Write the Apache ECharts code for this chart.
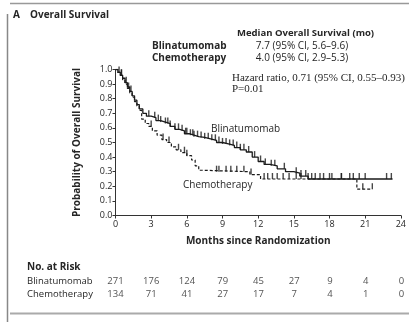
<!DOCTYPE html>
<html><head><meta charset="utf-8">
<script src="https://cdn.jsdelivr.net/npm/echarts@6/dist/echarts.min.js"></script>
<style>html,body{margin:0;padding:0;background:#fff;}#c{width:409px;height:322px;}</style>
</head><body><div id="c"></div>
<script>
// Kaplan-Meier step points [month, survival] (value after the drop)
var blinaTimes = [0,0.2,0.4,0.6,0.8,1.0,1.2,1.4,1.6,1.8,2.0,2.3,2.6,3.0,3.4,3.8,4.2,4.6,5.0,5.4,5.8,6.2,6.6,7.0,7.5,8.0,8.5,9.0,9.5,10.0,10.5,11.0,11.5,12.0,12.5,13.0,13.6,14.3,15.0,15.5,16.2,23.3];
var blinaSurv  = [1.0,0.98,0.96,0.94,0.91,0.88,0.85,0.82,0.79,0.76,0.73,0.70,0.68,0.67,0.65,0.64,0.63,0.61,0.59,0.58,0.56,0.55,0.54,0.535,0.525,0.515,0.50,0.49,0.48,0.465,0.45,0.435,0.40,0.37,0.35,0.34,0.32,0.30,0.29,0.27,0.25,0.25];
var chemoTimes = [0,0.2,0.4,0.6,0.8,1.0,1.2,1.4,1.6,1.8,2.0,2.2,2.5,2.8,3.1,3.5,3.9,4.3,4.7,5.1,5.5,6.0,6.4,6.7,7.0,7.3,11.3,12.2,20.3,21.6];
var chemoSurv  = [1.0,0.98,0.96,0.93,0.90,0.87,0.84,0.81,0.78,0.75,0.72,0.66,0.63,0.61,0.58,0.55,0.52,0.50,0.47,0.45,0.43,0.41,0.38,0.34,0.31,0.30,0.28,0.25,0.18,0.18];
// censoring times (months)
var blinaCensor = [0.3,0.5,0.9,1.3,2.8,3.3,3.6,3.8,4.2,4.4,4.6,5.0,5.3,5.6,5.9,6.0,6.3,6.5,6.6,6.9,7.2,7.5,7.8,8.1,8.4,8.7,9.0,9.3,9.6,9.9,10.2,10.5,10.8,11.2,11.7,12.2,12.6,13.1,13.4,14.2,15.2,15.6,16.0,16.5,17.2,18.0,19.0,20.0,20.5,21.0,22.8,23.2];
var chemoCensor = [0.5,1.1,3.0,4.0,4.5,5.3,5.8,6.0,8.5,8.7,9.3,9.7,10.2,10.8,11.4,12.5,12.8,13.2,13.6,14.1,14.6,15.2,15.6,16.2,16.8,17.5,18.2,19.0,19.7,20.8,21.6];
var xTicks = [0,3,6,9,12,15,18,21,24];
var riskGroups = ['Chemotherapy','Blinatumomab'];
var riskBlina = [271,176,124,79,45,27,9,4,0];
var riskChemo = [134,71,41,27,17,7,4,1,0];

function pairs(t,s){return t.map(function(v,i){return [v,s[i]];});}
function survAt(t,s,x){var v=s[0];for(var i=0;i<t.length;i++){if(t[i]<=x)v=s[i];}return v;}
function censorPts(c,t,s){return c.map(function(x){return [x,survAt(t,s,x)];});}

var FONT = '"Open Sans", sans-serif';
var TXT = '#262626';
var chart = echarts.init(document.getElementById('c'));
var riskData = [];
xTicks.forEach(function(m,i){riskData.push([m,'Blinatumomab',riskBlina[i]]);riskData.push([m,'Chemotherapy',riskChemo[i]]);});

chart.setOption({
  animation:false,
  grid:[{left:115.5,right:7.5,top:69.5,bottom:106.5},{left:115.5,right:7.5,top:275,height:26}],
  xAxis:[{gridIndex:0,type:'value',min:0,max:24,interval:3,
    name:'Months since Randomization',nameLocation:'middle',nameGap:21,
    nameTextStyle:{fontFamily:FONT,fontWeight:'bold',fontSize:10,color:TXT},
    axisLine:{lineStyle:{color:'#333',width:1}},axisTick:{length:3,lineStyle:{color:'#333'}},
    axisLabel:{fontFamily:FONT,fontSize:9,color:TXT,margin:4},splitLine:{show:false}},
   {gridIndex:1,type:'value',min:0,max:24,interval:3,show:false}],
  yAxis:[{gridIndex:0,type:'value',min:0,max:1,interval:0.1,
    name:'Probability of Overall Survival',nameLocation:'middle',nameGap:33,
    nameTextStyle:{fontFamily:FONT,fontWeight:'bold',fontSize:10,color:TXT},
    axisLine:{lineStyle:{color:'#333',width:1}},axisTick:{length:3,lineStyle:{color:'#333'}},
    axisLabel:{fontFamily:FONT,fontSize:9,color:TXT,margin:3,formatter:function(v){return v.toFixed(1);}},splitLine:{show:false}},
   {gridIndex:1,type:'category',data:riskGroups,
    axisLine:{show:false},axisTick:{show:false},
    axisLabel:{interval:0,hideOverlap:false,align:'left',margin:88.5,fontFamily:FONT,fontSize:9.5,color:TXT}}],
  series:[
    {type:'line',xAxisIndex:0,yAxisIndex:0,step:'end',symbol:'none',data:pairs(blinaTimes,blinaSurv),lineStyle:{color:'#1a1a1a',width:1.3}},
    {type:'line',xAxisIndex:0,yAxisIndex:0,step:'end',symbol:'none',data:pairs(chemoTimes,chemoSurv),lineStyle:{color:'#1a1a1a',width:1.2,type:[3,2]}},
    {type:'scatter',xAxisIndex:0,yAxisIndex:0,symbol:'rect',symbolSize:[1.4,6],symbolOffset:[0,-3],data:censorPts(blinaCensor,blinaTimes,blinaSurv),itemStyle:{color:'#1a1a1a'}},
    {type:'scatter',xAxisIndex:0,yAxisIndex:0,symbol:'rect',symbolSize:[1.4,6],symbolOffset:[0,-3],data:censorPts(chemoCensor,chemoTimes,chemoSurv),itemStyle:{color:'#1a1a1a'}},
    {type:'scatter',xAxisIndex:1,yAxisIndex:1,symbolSize:0,data:riskData,
     label:{show:true,position:'inside',fontFamily:FONT,fontSize:9.5,color:TXT,formatter:function(p){return p.value[2];}}}
  ],
  graphic:[
    {type:'line',shape:{x1:10,y1:3.5,x2:409,y2:3.5},style:{stroke:'#999',lineWidth:1.5}},
    {type:'line',shape:{x1:7.5,y1:14,x2:7.5,y2:322},style:{stroke:'#888',lineWidth:1.5}},
    {type:'line',shape:{x1:10,y1:313.5,x2:409,y2:313.5},style:{stroke:'#aaa',lineWidth:2}},
    {type:'text',x:13,y:15,style:{text:'A',font:'bold 10px '+FONT,fill:TXT,textVerticalAlign:'middle'}},
    {type:'text',x:30,y:15,style:{text:'Overall Survival',font:'bold 10px '+FONT,fill:TXT,textVerticalAlign:'middle'}},
    {type:'text',x:237,y:33,style:{text:'Median Overall Survival (mo)',font:'bold 9.5px '+FONT,fill:TXT,textVerticalAlign:'middle'}},
    {type:'text',x:152,y:46,style:{text:'Blinatumomab',font:'bold 10px '+FONT,fill:TXT,textVerticalAlign:'middle'}},
    {type:'text',x:302,y:46,style:{text:'7.7 (95% CI, 5.6–9.6)',font:'10px '+FONT,fill:TXT,textAlign:'center',textVerticalAlign:'middle'}},
    {type:'text',x:152,y:58,style:{text:'Chemotherapy',font:'bold 10px '+FONT,fill:TXT,textVerticalAlign:'middle'}},
    {type:'text',x:302,y:58,style:{text:'4.0 (95% CI, 2.9–5.3)',font:'10px '+FONT,fill:TXT,textAlign:'center',textVerticalAlign:'middle'}},
    {type:'text',x:232,y:78,style:{text:'Hazard ratio, 0.71 (95% CI, 0.55–0.93)',font:'11px "Liberation Serif", serif',fill:TXT,textVerticalAlign:'middle'}},
    {type:'text',x:232,y:89,style:{text:'P=0.01',font:'11px "Liberation Serif", serif',fill:TXT,textVerticalAlign:'middle'}},
    {type:'text',x:211,y:129,style:{text:'Blinatumomab',font:'10px '+FONT,fill:TXT,textVerticalAlign:'middle'}},
    {type:'text',x:183,y:185,style:{text:'Chemotherapy',font:'10px '+FONT,fill:TXT,textVerticalAlign:'middle'}},
    {type:'text',x:27,y:267,style:{text:'No. at Risk',font:'bold 10px '+FONT,fill:TXT,textVerticalAlign:'middle'}}
  ]
});
</script></body></html>
